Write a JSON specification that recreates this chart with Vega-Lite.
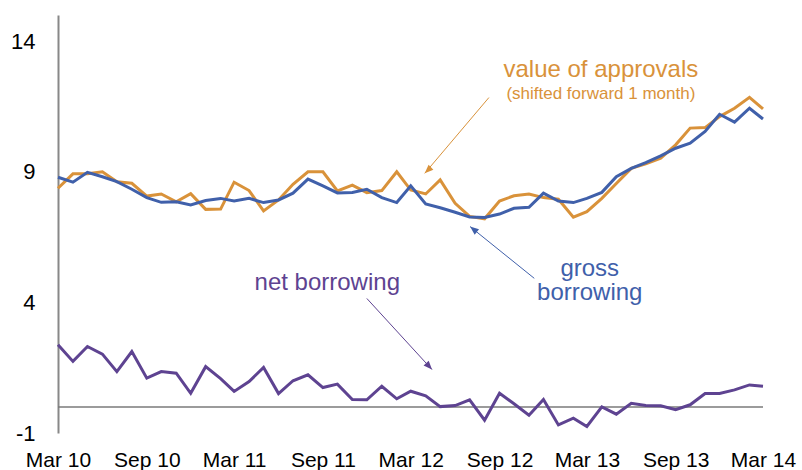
{
  "$schema": "https://vega.github.io/schema/vega-lite/v6.json",
  "width": 705,
  "height": 418,
  "autosize": {"type": "none"},
  "padding": {"left": 58, "right": 39, "top": 15, "bottom": 37},
  "background": "white",
  "config": {"view": {"stroke": null}, "font": "Liberation Sans"},
  "datasets": {
    "series": [
      {"date": "2010-03-01", "approvals": 8.37, "gross": 8.79, "net": 2.38},
      {"date": "2010-04-01", "approvals": 8.92, "gross": 8.60, "net": 1.74},
      {"date": "2010-05-01", "approvals": 8.92, "gross": 8.98, "net": 2.31},
      {"date": "2010-06-01", "approvals": 9.00, "gross": 8.81, "net": 2.02},
      {"date": "2010-07-01", "approvals": 8.62, "gross": 8.62, "net": 1.35},
      {"date": "2010-08-01", "approvals": 8.56, "gross": 8.33, "net": 2.12},
      {"date": "2010-09-01", "approvals": 8.07, "gross": 8.01, "net": 1.10},
      {"date": "2010-10-01", "approvals": 8.15, "gross": 7.83, "net": 1.35},
      {"date": "2010-11-01", "approvals": 7.85, "gross": 7.85, "net": 1.29},
      {"date": "2010-12-01", "approvals": 8.16, "gross": 7.73, "net": 0.52},
      {"date": "2011-01-01", "approvals": 7.56, "gross": 7.90, "net": 1.54},
      {"date": "2011-02-01", "approvals": 7.57, "gross": 7.98, "net": 1.08},
      {"date": "2011-03-01", "approvals": 8.60, "gross": 7.88, "net": 0.59},
      {"date": "2011-04-01", "approvals": 8.28, "gross": 7.98, "net": 0.97},
      {"date": "2011-05-01", "approvals": 7.50, "gross": 7.82, "net": 1.51},
      {"date": "2011-06-01", "approvals": 7.92, "gross": 7.92, "net": 0.51},
      {"date": "2011-07-01", "approvals": 8.52, "gross": 8.18, "net": 1.00},
      {"date": "2011-08-01", "approvals": 9.00, "gross": 8.72, "net": 1.23},
      {"date": "2011-09-01", "approvals": 9.00, "gross": 8.46, "net": 0.74},
      {"date": "2011-10-01", "approvals": 8.27, "gross": 8.19, "net": 0.87},
      {"date": "2011-11-01", "approvals": 8.49, "gross": 8.21, "net": 0.28},
      {"date": "2011-12-01", "approvals": 8.20, "gross": 8.33, "net": 0.27},
      {"date": "2012-01-01", "approvals": 8.28, "gross": 8.01, "net": 0.79},
      {"date": "2012-02-01", "approvals": 9.00, "gross": 7.82, "net": 0.31},
      {"date": "2012-03-01", "approvals": 8.30, "gross": 8.46, "net": 0.60},
      {"date": "2012-04-01", "approvals": 8.15, "gross": 7.77, "net": 0.42},
      {"date": "2012-05-01", "approvals": 8.69, "gross": 7.62, "net": 0.01},
      {"date": "2012-06-01", "approvals": 7.79, "gross": 7.45, "net": 0.05},
      {"date": "2012-07-01", "approvals": 7.29, "gross": 7.27, "net": 0.27},
      {"date": "2012-08-01", "approvals": 7.20, "gross": 7.25, "net": -0.51},
      {"date": "2012-09-01", "approvals": 7.88, "gross": 7.38, "net": 0.52},
      {"date": "2012-10-01", "approvals": 8.08, "gross": 7.60, "net": 0.12},
      {"date": "2012-11-01", "approvals": 8.15, "gross": 7.64, "net": -0.32},
      {"date": "2012-12-01", "approvals": 8.01, "gross": 8.18, "net": 0.28},
      {"date": "2013-01-01", "approvals": 7.95, "gross": 7.88, "net": -0.69},
      {"date": "2013-02-01", "approvals": 7.26, "gross": 7.82, "net": -0.43},
      {"date": "2013-03-01", "approvals": 7.47, "gross": 7.98, "net": -0.75},
      {"date": "2013-04-01", "approvals": 7.98, "gross": 8.21, "net": 0.00},
      {"date": "2013-05-01", "approvals": 8.55, "gross": 8.81, "net": -0.28},
      {"date": "2013-06-01", "approvals": 9.13, "gross": 9.13, "net": 0.14},
      {"date": "2013-07-01", "approvals": 9.30, "gross": 9.35, "net": 0.05},
      {"date": "2013-08-01", "approvals": 9.52, "gross": 9.61, "net": 0.04},
      {"date": "2013-09-01", "approvals": 10.03, "gross": 9.90, "net": -0.11},
      {"date": "2013-10-01", "approvals": 10.67, "gross": 10.09, "net": 0.08},
      {"date": "2013-11-01", "approvals": 10.69, "gross": 10.54, "net": 0.51},
      {"date": "2013-12-01", "approvals": 11.11, "gross": 11.20, "net": 0.51},
      {"date": "2014-01-01", "approvals": 11.43, "gross": 10.90, "net": 0.65},
      {"date": "2014-02-01", "approvals": 11.85, "gross": 11.43, "net": 0.84},
      {"date": "2014-03-01", "approvals": 11.41, "gross": 11.02, "net": 0.79}
    ],
    "arrows": [
      {"series": "approvals", "date": "2012-08-10", "value": 11.84, "date2": "2012-03-30", "value2": 8.94},
      {"series": "gross", "date": "2012-11-12", "value": 4.92, "date2": "2012-07-02", "value2": 6.90},
      {"series": "net", "date": "2011-12-01", "value": 4.15, "date2": "2012-04-14", "value2": 1.43}
    ],
    "notes": [
      {"note": "value of approvals", "series": "approvals", "date": "2013-03-30", "value": 12.64},
      {"note": "(shifted forward 1 month)", "series": "approvals", "date": "2013-03-30", "value": 11.78},
      {"note": "gross", "series": "gross", "date": "2013-03-07", "value": 5.0},
      {"note": "borrowing", "series": "gross", "date": "2013-03-07", "value": 4.09},
      {"note": "net borrowing", "series": "net", "date": "2011-09-10", "value": 4.47}
    ]
  },
  "layer": [
    {
      "data": {"values": [{}]},
      "mark": {"type": "rule", "color": "#7a7a7a", "strokeWidth": 1.5},
      "encoding": {
        "y": {
          "datum": 0, "type": "quantitative", "scale": {"domain": [-1, 15], "nice": false},
          "axis": {
            "title": null, "values": [-1, 4, 9, 14], "grid": false, "ticks": false, "tickSize": 0,
            "domain": true, "domainColor": "#888888", "domainWidth": 2,
            "labelExpr": "'' + datum.value",
            "labelFontSize": 22, "labelColor": "#000000", "labelPadding": 23
          }
        }
      }
    },
    {
      "data": {"name": "series"},
      "transform": [{"fold": ["approvals", "gross", "net"], "as": ["series", "value"]}],
      "mark": {"type": "line", "strokeWidth": 3},
      "encoding": {
        "x": {
          "field": "date", "type": "temporal",
          "scale": {"type": "utc", "domain": [{"year": 2010, "month": 3, "date": 1, "utc": true}, {"year": 2014, "month": 3, "date": 1, "utc": true}], "nice": false},
          "axis": {
            "title": null, "format": "%b %y", "domain": false, "ticks": false, "grid": false,
            "labelFontSize": 21, "labelColor": "#000000", "labelPadding": 16, "labelFlush": false, "labelOverlap": false,
            "values": [
              {"year": 2010, "month": 3, "date": 1, "utc": true},
              {"year": 2010, "month": 9, "date": 1, "utc": true},
              {"year": 2011, "month": 3, "date": 1, "utc": true},
              {"year": 2011, "month": 9, "date": 1, "utc": true},
              {"year": 2012, "month": 3, "date": 1, "utc": true},
              {"year": 2012, "month": 9, "date": 1, "utc": true},
              {"year": 2013, "month": 3, "date": 1, "utc": true},
              {"year": 2013, "month": 9, "date": 1, "utc": true},
              {"year": 2014, "month": 3, "date": 1, "utc": true}
            ]
          }
        },
        "y": {
          "field": "value", "type": "quantitative", "title": null,
          "scale": {"domain": [-1, 15], "nice": false}
        },
        "color": {
          "field": "series", "type": "nominal", "legend": null,
          "scale": {"domain": ["approvals", "gross", "net"], "range": ["#D9923A", "#4060AA", "#5E4391"]}
        }
      }
    },
    {
      "data": {"name": "arrows"},
      "mark": {"type": "rule", "strokeWidth": 1},
      "encoding": {
        "x": {"field": "date", "type": "temporal", "title": null, "scale": {"type": "utc"}},
        "y": {"field": "value", "type": "quantitative", "title": null, "scale": {"domain": [-1, 15], "nice": false}},
        "x2": {"field": "date2"},
        "y2": {"field": "value2"},
        "color": {"field": "series", "type": "nominal", "legend": null}
      }
    },
    {
      "data": {"name": "arrows"},
      "transform": [{"filter": "datum.series === 'approvals'"}],
      "mark": {"type": "point", "shape": "M0,0L0.4,1L-0.4,1Z", "filled": true, "size": 300, "opacity": 1, "angle": 226, "strokeWidth": 0},
      "encoding": {
        "x": {"field": "date2", "type": "temporal", "title": null, "scale": {"type": "utc"}},
        "y": {"field": "value2", "type": "quantitative", "title": null, "scale": {"domain": [-1, 15], "nice": false}},
        "color": {"field": "series", "type": "nominal", "legend": null}
      }
    },
    {
      "data": {"name": "arrows"},
      "transform": [{"filter": "datum.series === 'gross'"}],
      "mark": {"type": "point", "shape": "M0,0L0.4,1L-0.4,1Z", "filled": true, "size": 300, "opacity": 1, "angle": 309, "strokeWidth": 0},
      "encoding": {
        "x": {"field": "date2", "type": "temporal", "title": null, "scale": {"type": "utc"}},
        "y": {"field": "value2", "type": "quantitative", "title": null, "scale": {"domain": [-1, 15], "nice": false}},
        "color": {"field": "series", "type": "nominal", "legend": null}
      }
    },
    {
      "data": {"name": "arrows"},
      "transform": [{"filter": "datum.series === 'net'"}],
      "mark": {"type": "point", "shape": "M0,0L0.4,1L-0.4,1Z", "filled": true, "size": 300, "opacity": 1, "angle": 137.6, "strokeWidth": 0},
      "encoding": {
        "x": {"field": "date2", "type": "temporal", "title": null, "scale": {"type": "utc"}},
        "y": {"field": "value2", "type": "quantitative", "title": null, "scale": {"domain": [-1, 15], "nice": false}},
        "color": {"field": "series", "type": "nominal", "legend": null}
      }
    },
    {
      "data": {"name": "notes"},
      "transform": [{"filter": "datum.note !== '(shifted forward 1 month)'"}],
      "mark": {"type": "text", "fontSize": 24, "align": "center", "baseline": "alphabetic"},
      "encoding": {
        "x": {"field": "date", "type": "temporal", "title": null, "scale": {"type": "utc"}},
        "y": {"field": "value", "type": "quantitative", "title": null, "scale": {"domain": [-1, 15], "nice": false}},
        "text": {"field": "note"},
        "color": {"field": "series", "type": "nominal", "legend": null}
      }
    },
    {
      "data": {"name": "notes"},
      "transform": [{"filter": "datum.note === '(shifted forward 1 month)'"}],
      "mark": {"type": "text", "fontSize": 17, "align": "center", "baseline": "alphabetic"},
      "encoding": {
        "x": {"field": "date", "type": "temporal", "title": null, "scale": {"type": "utc"}},
        "y": {"field": "value", "type": "quantitative", "title": null, "scale": {"domain": [-1, 15], "nice": false}},
        "text": {"field": "note"},
        "color": {"field": "series", "type": "nominal", "legend": null}
      }
    }
  ]
}
